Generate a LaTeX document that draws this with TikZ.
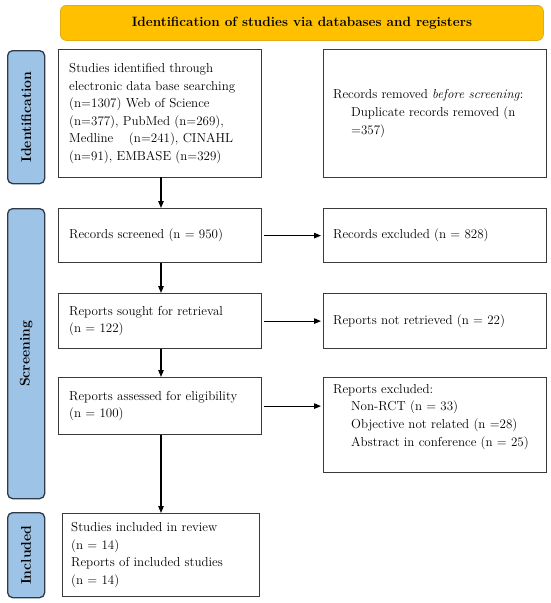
\documentclass[tikz,border=0pt]{standalone}
\usetikzlibrary{arrows.meta,positioning}
\definecolor{bannerfill}{HTML}{FFC000}
\definecolor{bannerdraw}{HTML}{E3AC12}
\definecolor{sidefill}{HTML}{9DC3E6}
\definecolor{sidedraw}{HTML}{2E3B48}
\definecolor{boxdraw}{HTML}{3A3A3A}
\begin{document}
\begin{tikzpicture}[x=1pt,y=-1pt,
  boxshape/.style={draw=boxdraw,line width=1.2pt,fill=white,anchor=north west,inner sep=0pt},
  boxtext/.style={anchor=west,align=left,inner sep=0pt,font=\fontsize{13}{17.6}\selectfont},
  sidelabel/.style={draw=sidedraw,line width=1.3pt,fill=sidefill,rounded corners=5pt,anchor=north west,inner sep=0pt},
  sidetext/.style={rotate=90,font=\bfseries\fontsize{14}{16}\selectfont},
  arr/.style={line width=1.1pt,-{Triangle[length=7pt,width=5.5pt]}}]
\useasboundingbox (0,0) rectangle (550,603);
% banner
\node[draw=bannerdraw,line width=0.8pt,fill=bannerfill,rounded corners=6pt,anchor=north west,
  minimum width=483pt,minimum height=35pt,inner sep=0pt,
  font=\bfseries\fontsize{13.5}{16}\selectfont] (banner) at (60,5)
  {Identification of studies via databases and registers};
% side labels
\node[sidelabel,minimum width=37pt,minimum height=133pt] (sideid) at (7,50) {};
\node[sidetext] (sideidt) at (sideid.center) {Identification};
\node[sidelabel,minimum width=37pt,minimum height=290pt] (sidescr) at (7,208) {};
\node[sidetext] (sidescrt) at (sidescr.center) {Screening};
\node[sidelabel,minimum width=37pt,minimum height=85pt] (sideinc) at (7,512) {};
\node[sidetext] (sideinct) at (sideinc.center) {Included};
% boxes
\node[boxshape,minimum width=203pt,minimum height=128pt] (ident) at (58,49) {};
\node[boxtext] (identt) at ([xshift=11pt]ident.west)
  {Studies identified through\\electronic data base searching\\(n=1307) Web of Science\\(n=377), PubMed (n=269),\\Medline\hspace{1.2em}(n=241), CINAHL\\(n=91), EMBASE (n=329)};
\node[boxshape,minimum width=223pt,minimum height=128pt] (removed) at (323,49) {};
\node[boxtext] (removedt) at ([xshift=10pt]removed.west)
  {Records removed \textit{before screening}:\\\hspace*{18pt}Duplicate records removed (n\\\hspace*{18pt}=357)};
\node[boxshape,minimum width=203pt,minimum height=54pt] (screened) at (58,208) {};
\node[boxtext] (screenedt) at ([xshift=11pt]screened.west) {Records screened (n = 950)};
\node[boxshape,minimum width=223pt,minimum height=54pt] (excl) at (323,208) {};
\node[boxtext] (exclt) at ([xshift=10pt]excl.west) {Records excluded (n = 828)};
\node[boxshape,minimum width=203pt,minimum height=55pt] (sought) at (58,293) {};
\node[boxtext] (soughtt) at ([xshift=11pt]sought.west) {Reports sought for retrieval\\(n = 122)};
\node[boxshape,minimum width=223pt,minimum height=55pt] (notret) at (323,293) {};
\node[boxtext] (notrett) at ([xshift=10pt]notret.west) {Reports not retrieved (n = 22)};
\node[boxshape,minimum width=203pt,minimum height=57pt] (assessed) at (58,377) {};
\node[boxtext] (assessedt) at ([xshift=11pt]assessed.west) {Reports assessed for eligibility\\(n = 100)};
\node[boxshape,minimum width=223pt,minimum height=95pt] (rexcl) at (323,377) {};
\node[boxtext,anchor=north west] (rexclt) at ([xshift=10pt,yshift=-7pt]rexcl.north west)
  {Reports excluded:\\\hspace*{18pt}Non-RCT (n = 33)\\\hspace*{18pt}Objective not related (n =28)\\\hspace*{18pt}Abstract in conference (n = 25)};
\node[boxshape,minimum width=197pt,minimum height=83pt] (incl) at (62,513) {};
\node[boxtext] (inclt) at ([xshift=9pt]incl.west)
  {Studies included in review\\(n = 14)\\Reports of included studies\\(n = 14)};
% connectors
\coordinate (c1) at (161,177);
\coordinate (c2) at (161,208);
\draw[arr] (c1) -- (c2);
\draw[arr] (screened.south -| c1) -- (sought.north -| c1);
\draw[arr] (sought.south -| c1) -- (assessed.north -| c1);
\draw[arr] (assessed.south -| c1) -- (incl.north -| c1);
\draw[arr] ([xshift=2pt]screened.east) -- ([xshift=-2pt]excl.west);
\draw[arr] ([xshift=2pt]sought.east) -- ([xshift=-2pt]notret.west);
\draw[arr] ([xshift=2pt]assessed.east) -- ([xshift=-2pt]assessed.east -| rexcl.west);
\end{tikzpicture}
\end{document}
